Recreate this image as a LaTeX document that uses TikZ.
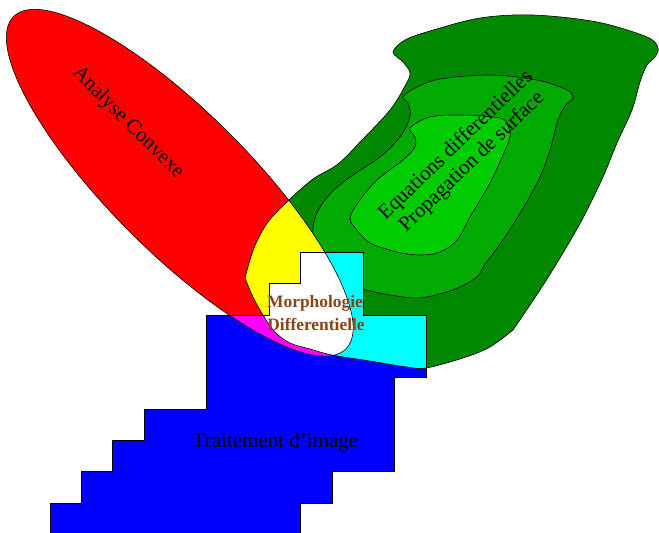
\documentclass[tikz,border=0pt]{standalone}
\usepackage{fontspec}
\setmainfont{Liberation Serif}
\definecolor{dkgreen}{RGB}{0,136,0}
\definecolor{mdgreen}{RGB}{0,170,0}
\definecolor{ltgreen}{RGB}{0,204,0}
\definecolor{morphbrown}{RGB}{139,69,19}
\definecolor{pureyellow}{RGB}{255,255,0}
\definecolor{purecyan}{RGB}{0,255,255}
\definecolor{puremagenta}{RGB}{255,0,255}
\definecolor{purered}{RGB}{255,0,0}
\definecolor{pureblue}{RGB}{0,0,255}
\begin{document}
\begin{tikzpicture}[x=1pt,y=-1pt,line width=0.6pt,
  ellrot/.style={rotate around={-45:(E)}},
  lbl/.style={font=\fontsize{21}{23}\selectfont,inner sep=0pt,align=center},
  morph/.style={font=\fontsize{17.4}{23.5}\selectfont\bfseries,text=morphbrown,inner sep=0pt,align=center}]
\useasboundingbox (0,0) rectangle (659,533);
\coordinate (E) at (179.75,182.75);
\def\greenouter{plot[smooth,tension=0.55] coordinates{(245,278) (254,248) (268,222) (289,200) (313,179) (338,164) (362,140) (390,110) (405,86) (410,73) (403,62) (393,52) (405,40) (430,31) (480,18) (533,15) (597,22) (647,37) (658,48) (655,57) (647,65) (640,82) (632,110) (617,143) (603,177) (583,218) (563,253) (540,290) (513,330)}
  -- plot[smooth,tension=0.55] coordinates{(513,330) (490,347) (463,358) (426,368) (407,367) (370,361) (332,355) (310,349) (290,343) (275,332) (263,315) (253,297) (245,278)} -- cycle}
\def\greenmid{plot[smooth,tension=0.55] coordinates{(483,267) (477,277) (460,287) (443,293) (418,298) (390,295) (363,289) (340,280) (322,262) (313,240) (316,215) (330,194) (350,177) (380,157) (400,137) (410,117) (408,103) (403,97) (415,88) (440,79) (490,75) (537,80) (567,90) (573,98) (565,106) (558,120) (550,150) (540,177) (525,205) (505,237) (483,267)} -- cycle}
\def\greenlight{plot[smooth cycle,tension=0.55] coordinates{(410,128) (430,117) (462,115) (500,118) (508,126) (510,137) (503,155) (490,183) (470,217) (457,240) (440,252) (420,255) (397,252) (370,243) (357,230) (350,218) (360,200) (377,180) (403,160) (415,147) (415,137)}}
\def\bluepoly{(50,534.33) -- (50,503) -- (81.33,503) -- (81.33,471.67) -- (112.67,471.67) -- (112.67,440.33) -- (144,440.33) -- (144,409) -- (206.67,409) -- (206.67,315) -- (269.33,315) -- (269.33,283.67) -- (300.67,283.67) -- (300.67,252.33) -- (363.33,252.33) -- (363.33,315) -- (426,315) -- (426,377.67) -- (394.67,377.67) -- (394.67,471.67) -- (332,471.67) -- (332,503) -- (300.67,503) -- (300.67,534.33) -- cycle}
% green levels
\fill[dkgreen] \greenouter;
\filldraw[fill=mdgreen,draw=black] \greenmid;
\filldraw[fill=ltgreen,draw=black] \greenlight;
% red ellipse
\fill[purered,ellrot] (E) ellipse [x radius=235,y radius=70];
% yellow = red and green
\begin{scope}
  \clip[ellrot] (E) ellipse [x radius=235,y radius=70];
  \fill[pureyellow] \greenouter;
\end{scope}
% blue polygon
\fill[pureblue] \bluepoly;
\begin{scope}
  \clip \bluepoly;
  \fill[puremagenta,ellrot] (E) ellipse [x radius=235,y radius=70];
  \fill[purecyan] \greenouter;
  \clip[ellrot] (E) ellipse [x radius=235,y radius=70];
  \fill[white] \greenouter;
\end{scope}
% outlines
\draw \greenouter;
\draw[ellrot] (E) ellipse [x radius=235,y radius=70];
\draw \bluepoly;
% labels
\node[lbl,rotate=-45] (ac) at (128,123) {Analyse Convexe};
\node[lbl,rotate=44] (ed) at (464,154) {Equations differentielles\\Propagation de surface};
\node[lbl,anchor=base] (ti) at (275.5,447) {Traitement d’image};
\node[morph,anchor=base] (mo) at (315,307) {Morphologie};
\node[morph,anchor=base] (di) at (316,330) {Differentielle};
\end{tikzpicture}
\end{document}
